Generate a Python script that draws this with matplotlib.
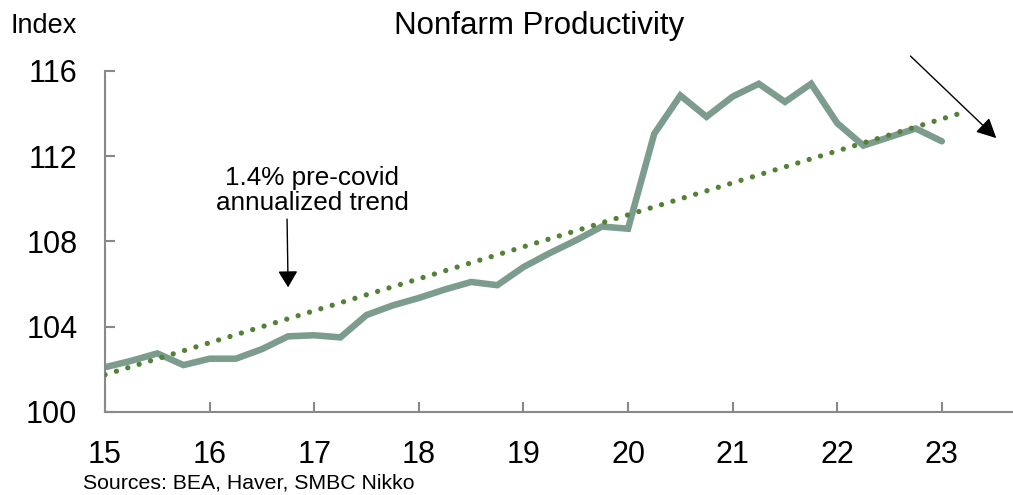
import numpy as np
import matplotlib.pyplot as plt

plt.rcParams['font.family'] = ['Liberation Sans', 'DejaVu Sans']

# quarterly, 2015Q1 .. 2023Q1
quarters = np.arange(15.0, 23.01, 0.25)
productivity = [
    102.1, 102.4, 102.75, 102.2, 102.5, 102.5, 102.95, 103.55,
    103.6, 103.5, 104.55, 105.0, 105.35, 105.75, 106.1, 105.95,
    106.8, 107.45, 108.05, 108.7, 108.6, 113.05, 114.85, 113.85,
    114.8, 115.4, 114.55, 115.4, 113.55, 112.5, 112.9, 113.3,
    112.7,
]

# 1.4% pre-covid trend (straight dotted line, endpoints)
trend_x = [15.0, 23.2]
trend_y = [101.75, 114.05]

years = [15, 16, 17, 18, 19, 20, 21, 22, 23]
yticks = [100, 104, 108, 112, 116]

fig = plt.figure(figsize=(10.13, 4.95), dpi=100)
ax = fig.add_axes([0.1037, 0.1677, 0.8963, 0.6889])

ax.plot(quarters, productivity, color='#7c9c8e', lw=4.7, solid_joinstyle='miter',
        solid_capstyle='round', zorder=2)
ax.plot(trend_x, trend_y, color='#538135', lw=3.8, linestyle=(0, (0.01, 2.24)),
        dash_capstyle='round', zorder=3)

ax.set_xlim(15, 23.68)
ax.set_ylim(100, 116)
ax.set_xticks(years)
ax.set_yticks(yticks)
ax.set_xticklabels([str(y) for y in years])

for s in ['top', 'right']:
    ax.spines[s].set_visible(False)
for s in ['left', 'bottom']:
    ax.spines[s].set_color('#898989')
    ax.spines[s].set_linewidth(1.5)

ax.tick_params(axis='both', direction='in', length=7, width=1.5, color='#898989',
               labelsize=22)
ax.tick_params(axis='y', pad=20)
ax.tick_params(axis='x', pad=20)

fig.text(0.532, 0.948, 'Nonfarm Productivity', ha='center', va='center', fontsize=22.5)
fig.text(0.01, 0.948, 'Index', ha='left', va='center', fontsize=19.5)
fig.text(0.082, 0.025, 'Sources: BEA, Haver, SMBC Nikko', ha='left', va='center',
         fontsize=15.3)

ax.text(16.98, 110.4, '1.4% pre-covid\nannualized trend', ha='center', va='center',
        fontsize=18.8, linespacing=1.05)
ax.annotate('', xy=(16.75, 105.85), xytext=(16.74, 109.05),
            arrowprops=dict(arrowstyle='-|>,head_length=0.5,head_width=0.3',
                            color='black', lw=1, mutation_scale=20,
                            shrinkA=0, shrinkB=0))
ax.annotate('', xy=(23.52, 112.85), xytext=(22.7, 116.7),
            arrowprops=dict(arrowstyle='-|>,head_length=0.6,head_width=0.3',
                            color='black', lw=1, mutation_scale=20,
                            shrinkA=0, shrinkB=0),
            annotation_clip=False)

fig.savefig('out.png', dpi=100)
